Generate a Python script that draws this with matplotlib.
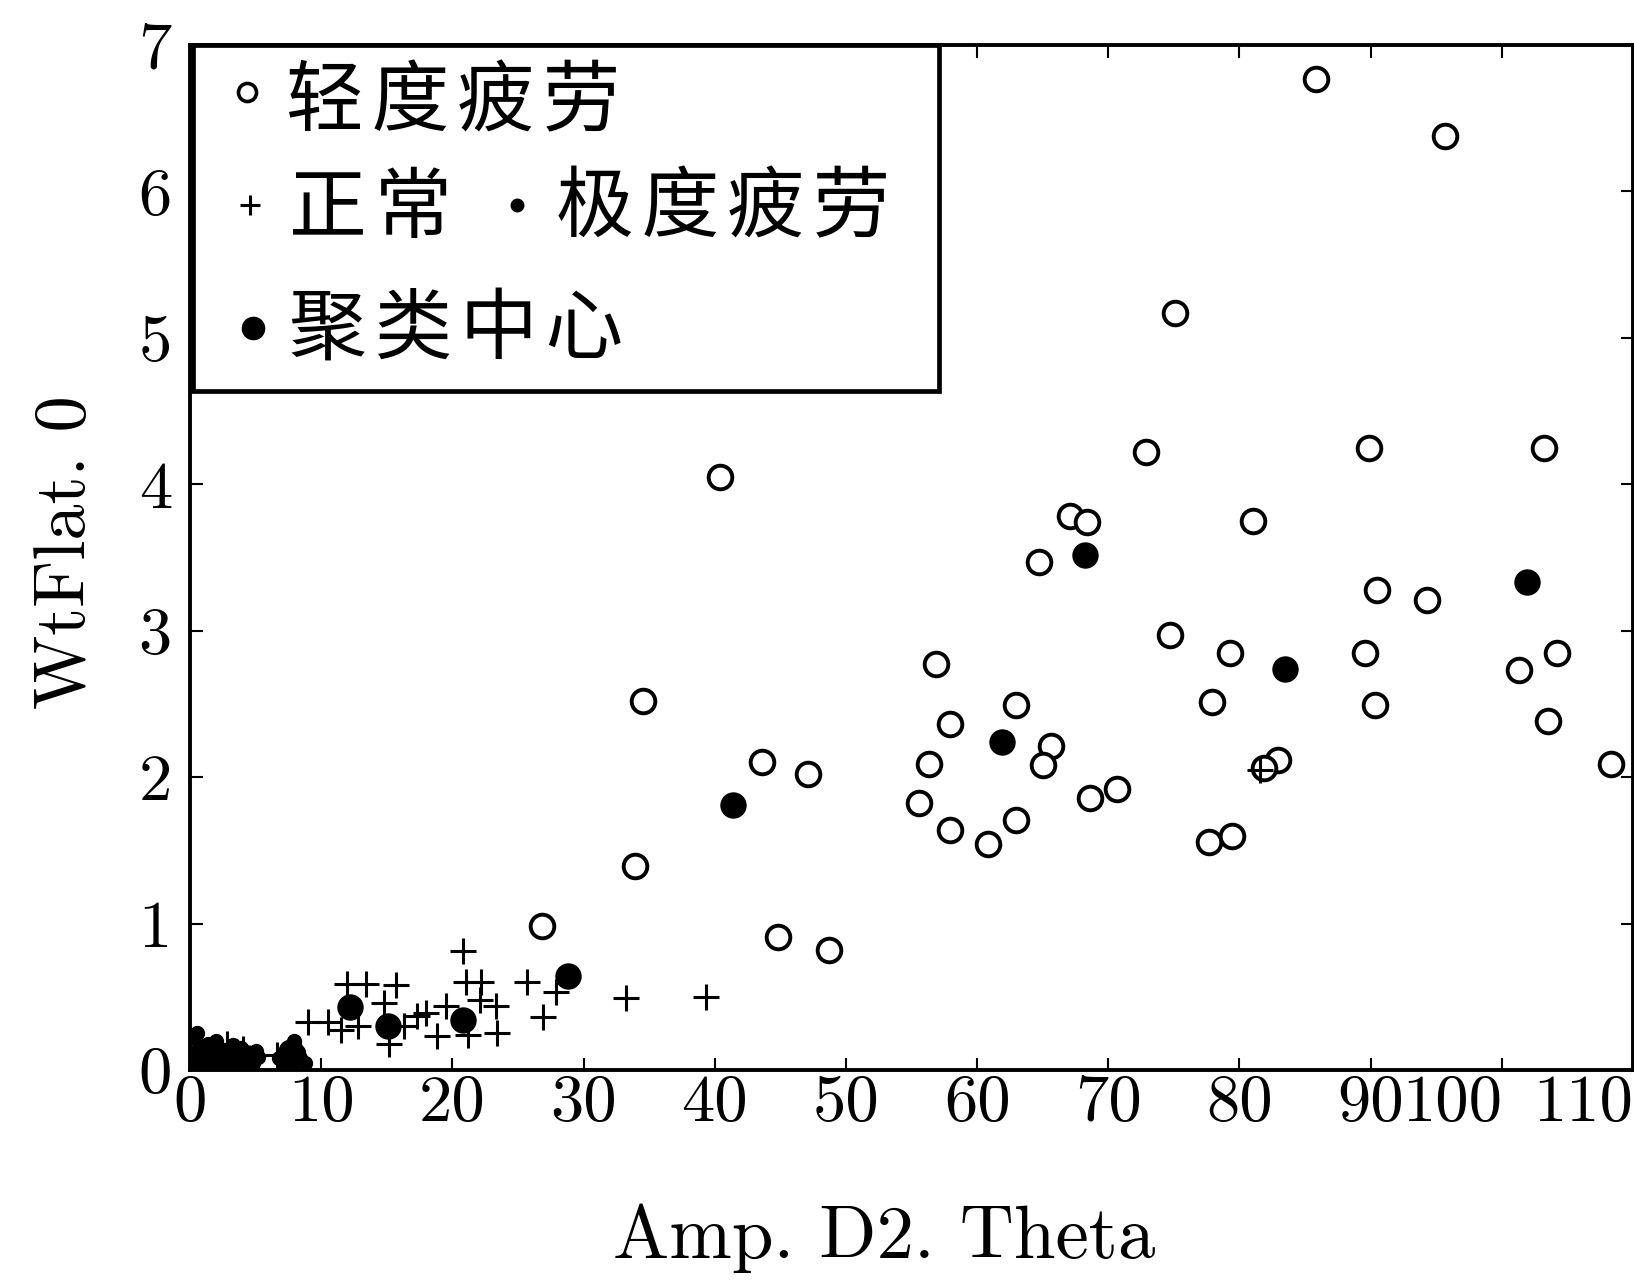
import matplotlib
matplotlib.use("Agg")
import matplotlib.pyplot as plt
from matplotlib.patches import Rectangle

# 轻度疲劳 (open circles)
mild_x = [85.8, 95.7, 75.1, 40.4, 72.9, 89.9, 103.2, 67.1, 68.4, 64.7, 81.0, 90.5,
          94.3, 74.7, 56.9, 79.3, 89.6, 101.3, 104.2, 34.5, 63.0, 77.9, 90.3, 57.9,
          103.5, 43.6, 47.1, 56.3, 65.6, 65.0, 70.7, 68.6, 82.9, 81.9, 108.3, 55.6,
          57.9, 60.8, 63.0, 77.7, 79.4, 33.9, 26.8, 44.8, 48.7]
mild_y = [6.77, 6.38, 5.17, 4.05, 4.22, 4.25, 4.25, 3.78, 3.74, 3.47, 3.75, 3.28,
          3.21, 2.97, 2.77, 2.85, 2.85, 2.73, 2.85, 2.52, 2.49, 2.51, 2.49, 2.36,
          2.38, 2.10, 2.02, 2.09, 2.21, 2.08, 1.92, 1.86, 2.12, 2.06, 2.09, 1.82,
          1.64, 1.54, 1.71, 1.56, 1.60, 1.39, 0.98, 0.91, 0.82]

# 正常 (plus)
normal_x = [20.8, 21.0, 22.2, 25.7, 27.9, 26.9, 18.8, 21.2, 23.4, 33.2, 39.3, 12.0,
            13.4, 15.7, 10.5, 11.5, 12.8, 15.2, 16.3, 14.8, 9.0, 18.0, 19.5, 22.1,
            23.3, 17.3, 81.6, 0.8, 2.0, 3.5, 1.2, 4.5, 6.6, 8.1, 0.5, 2.8, 4.0, 7.6]
normal_y = [0.81, 0.60, 0.60, 0.60, 0.53, 0.36, 0.23, 0.24, 0.25, 0.49, 0.50, 0.59,
            0.59, 0.58, 0.33, 0.27, 0.30, 0.18, 0.30, 0.46, 0.33, 0.39, 0.44, 0.48,
            0.44, 0.37, 2.05, 0.20, 0.15, 0.12, 0.05, 0.08, 0.10, 0.06, 0.16, 0.18,
            0.14, 0.12]

# 极度疲劳 (small dots)
severe_x = [0.3, 0.6, 1.0, 1.4, 1.8, 2.3, 2.7, 3.1, 3.6, 4.2, 4.8, 5.2, 0.5, 7.2,
            7.9, 8.4, 0.3, 0.8, 1.2, 2.0, 2.5, 3.3, 3.9, 4.5, 5.0, 0.2, 1.6, 2.9,
            4.0, 6.8, 7.4, 8.2, 8.8, 7.7]
severe_y = [0.05, 0.12, 0.02, 0.18, 0.08, 0.14, 0.04, 0.10, 0.06, 0.12, 0.05, 0.09,
            0.25, 0.05, 0.20, 0.08, 0.22, 0.15, 0.10, 0.20, 0.08, 0.17, 0.15, 0.10,
            0.13, 0.10, 0.03, 0.02, 0.03, 0.08, 0.15, 0.12, 0.05, 0.02]

# 聚类中心 (filled circles)
center_x = [68.2, 101.9, 83.5, 61.9, 41.4, 28.8, 12.2, 20.8, 15.1, 7.7, 1.6, 4.0]
center_y = [3.52, 3.33, 2.74, 2.24, 1.81, 0.64, 0.43, 0.34, 0.30, 0.12, 0.08, 0.08]

xticks = list(range(0, 111, 10))
yticks = list(range(0, 8))

cjk = ['Noto Sans CJK SC', 'DejaVu Sans']
num_font = 'cmr10'

fig = plt.figure(figsize=(16.34, 12.84), dpi=100)
ax = fig.add_axes([0.1163, 0.1667, 0.8831, 0.7983])

ax.plot(mild_x, mild_y, 'o', ms=17, mfc='white', mec='black', mew=2.8, ls='none')
ax.plot(normal_x, normal_y, '+', ms=19, mec='black', mew=2.2, ls='none')
ax.plot(severe_x, severe_y, 'o', ms=10, mfc='black', mec='black', ls='none')
ax.plot(center_x, center_y, 'o', ms=18, mfc='black', mec='black', ls='none')

ax.set_xlim(0, 110)
ax.set_ylim(0, 7)
ax.set_xticks(xticks)
ax.set_yticks(yticks)
ax.set_xticklabels([str(t) for t in xticks], fontfamily=num_font, fontsize=48)
ax.set_yticklabels([str(t) for t in yticks], fontfamily=num_font, fontsize=48)
# the last two labels are wide, keep them from colliding and off the edge
for lab in ax.get_xticklabels()[-2:]:
    lab.set_ha('right')
ax.tick_params(direction='in', top=True, right=True, length=9, width=1.5)
ax.tick_params(axis='x', pad=3)
ax.tick_params(axis='y', pad=13)
for s in ax.spines.values():
    s.set_linewidth(2.8)

ax.set_xlabel('Amp. D2. Theta', fontfamily=num_font, fontsize=54)
ax.set_ylabel('WtFlat. 0', fontfamily=num_font, fontsize=52)
ax.xaxis.set_label_coords(0.481, -0.13)
ax.yaxis.set_label_coords(-0.063, 0.505)

# hand-made legend, three rows, second row holds two entries
ax.add_patch(Rectangle((0.002, 0.662), 0.517, 0.338, transform=ax.transAxes,
                       facecolor='white', edgecolor='black', lw=3.4, zorder=5, clip_on=False))
sp = '\u200a'
kw = dict(transform=ax.transAxes, clip_on=False, zorder=6, ls='none')
ax.plot([0.0394], [0.954], 'o', ms=13, mfc='white', mec='black', mew=2.6, **kw)
ax.plot([0.0414], [0.844], '+', ms=14, mec='black', mew=2.2, **kw)
ax.plot([0.2265], [0.844], 'o', ms=9, mfc='black', mec='black', **kw)
ax.plot([0.0435], [0.724], 'o', ms=16, mfc='black', mec='black', **kw)
tkw = dict(transform=ax.transAxes, family=cjk, fontsize=56, va='center', ha='left', zorder=6)
ax.text(0.0667, 0.9424, sp.join('轻度疲劳'), **tkw)
ax.text(0.0689, 0.839, sp.join('正常'), **tkw)
ax.text(0.2538, 0.839, sp.join('极度疲劳'), **tkw)
ax.text(0.0689, 0.721, sp.join('聚类中心'), **tkw)

fig.savefig('out.png', dpi=100)
